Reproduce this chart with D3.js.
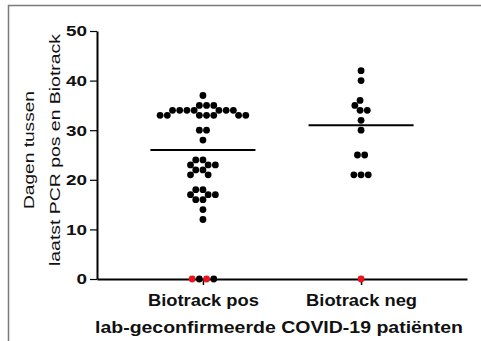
<!DOCTYPE html>
<html>
<head>
<meta charset="utf-8">
<script src="https://cdn.jsdelivr.net/npm/d3@7"></script>
<style>
  body { margin: 0; background: #fff; }
  svg { display: block; font-family: 'Liberation Sans', Arial, sans-serif; }
</style>
</head>
<body>
<div id="chart"></div>
<script>
const categories = ['Biotrack pos', 'Biotrack neg']
// dagen tussen laatste PCR pos en Biotrack, per patiënt (zwart)
const posDays = [37, 35, 35, 35, 34, 34, 34, 34, 34, 34, 34, 33, 33, 33, 33, 33, 33, 33,
  30, 30, 28, 24, 24, 23, 23, 23, 22, 22, 21, 21, 18, 18, 17, 17, 17, 16, 16, 14, 12, 0, 0]
const negDays = [42, 40, 36, 35, 34, 34, 32, 30, 25, 25, 21, 21, 21]
// rode punten
const posRedDays = [0, 0]
const negRedDays = [0]
// horizontale lijn per groep
const centerLines = [26, 31]
const yTicks = [0, 10, 20, 30, 40, 50]
const yTitle = ['Dagen tussen', 'laatst PCR pos en Biotrack']
const xTitle = 'lab-geconfirmeerde COVID-19 patiënten'

const width = 481
const height = 341
const dotR = 3.4
const dotD = 7.2
const red = '#e8141c'

const svg = d3.select('#chart').append('svg')
  .attr('width', width)
  .attr('height', height)

svg.append('rect').attr('width', width).attr('height', height).attr('fill', '#fff')

// grijze rand links en boven
svg.append('path')
  .attr('d', `M8.5,${height}V5.5H${width}`)
  .attr('fill', 'none')
  .attr('stroke', '#7a7a7a')
  .attr('stroke-width', 1.5)

const yScale = d3.scaleLinear().domain([0, 50]).range([279, 31])
const xScale = d3.scalePoint().domain(categories).range([97, 467]).padding(0.67)

const yAxisMinor = d3.axisLeft(yScale)
  .tickValues(d3.range(0, 51))
  .tickSize(3.5)
  .tickSizeOuter(0)
  .tickFormat('')

const yAxis = d3.axisLeft(yScale)
  .tickValues(yTicks)
  .tickSize(7)
  .tickSizeOuter(0)
  .tickPadding(3)

const xAxis = d3.axisBottom(xScale)
  .tickSize(6)
  .tickSizeOuter(0)

function customYAxis (g) {
  g.call(yAxisMinor)
  g.call(yAxis)
  g.select('.domain').attr('stroke', '#000').attr('stroke-width', 2)
  g.selectAll('.tick line').attr('stroke', '#000').attr('stroke-width', 1.2)
  g.selectAll('.tick text')
    .attr('fill', '#111')
    .style('font-size', '15px')
    .style('font-weight', 'bold')
    .attr('textLength', d => String(d).length * 10.5)
    .attr('lengthAdjust', 'spacingAndGlyphs')
}

function customXAxis (g) {
  g.call(xAxis)
  g.select('.domain').attr('stroke', '#000').attr('stroke-width', 2)
  g.selectAll('.tick line').attr('stroke', '#000').attr('stroke-width', 1.5)
  g.selectAll('.tick text')
    .attr('fill', '#111')
    .attr('y', 27)
    .attr('dy', 0)
    .style('font-size', '16px')
    .style('font-weight', 'bold')
    .attr('textLength', 111)
    .attr('lengthAdjust', 'spacingAndGlyphs')
}

svg.append('g').attr('transform', 'translate(97,0)').call(customYAxis)
svg.append('g').attr('transform', 'translate(0,279)').call(customXAxis)

// as-titels
svg.selectAll('.ytitle')
  .data(yTitle)
  .enter().append('text')
  .attr('class', 'ytitle')
  .attr('transform', (d, i) => `translate(${33.5 + i * 26},${150}) rotate(-90)`)
  .attr('text-anchor', 'middle')
  .attr('fill', '#111')
  .style('font-size', '15.5px')
  .attr('textLength', (d, i) => i === 0 ? 118 : 232)
  .attr('lengthAdjust', 'spacingAndGlyphs')
  .text(d => d)

svg.append('text')
  .attr('x', 279)
  .attr('y', 333)
  .attr('text-anchor', 'middle')
  .attr('fill', '#111')
  .style('font-size', '16.5px')
  .style('font-weight', 'bold')
  .attr('textLength', 368)
  .attr('lengthAdjust', 'spacingAndGlyphs')
  .text(xTitle)

// beeswarm: elk punt zo dicht mogelijk bij het midden zonder overlap
function swarm (points) {
  const d2 = dotD * dotD
  points.forEach((p, i) => {
    const near = points.slice(0, i).filter(q => Math.abs(q.y - p.y) < dotD)
    const cands = [0]
    near.forEach(q => {
      const dx = Math.sqrt(d2 - (q.y - p.y) ** 2)
      cands.push(q.x - dx, q.x + dx)
    })
    cands.sort((a, b) => Math.abs(a) - Math.abs(b) || a - b)
    p.x = cands.find(c => near.every(q => (q.x - c) ** 2 + (q.y - p.y) ** 2 >= d2 - 0.01))
  })
  // clusters centreren
  const parent = points.map((p, i) => i)
  const find = i => parent[i] === i ? i : (parent[i] = find(parent[i]))
  points.forEach((p, i) => points.forEach((q, j) => {
    if (j > i && (p.x - q.x) ** 2 + (p.y - q.y) ** 2 < (dotD + 0.6) ** 2) parent[find(i)] = find(j)
  }))
  d3.groups(points.map((p, i) => i), i => find(i)).forEach(([, idx]) => {
    const ext = d3.extent(idx, i => points[i].x)
    const shift = (ext[0] + ext[1]) / 2
    idx.forEach(i => { points[i].x -= shift })
  })
  // gelijke waarden links naar rechts in volgorde
  d3.groups(points, p => p.v).forEach(([, row]) => {
    const xs = row.map(p => p.x).sort((a, b) => a - b)
    row.forEach((p, k) => { p.x = xs[k] })
  })
  return points
}

function buildGroup (black, reds, cat) {
  const rank = arr => arr.map((v, i) => ({ v, red: false, k: arr.slice(0, i).filter(w => w === v).length }))
  const pts = rank(black).concat(rank(reds).map(p => ({ ...p, red: true })))
  pts.sort((a, b) => b.v - a.v || a.k - b.k || (b.red - a.red))
  pts.forEach(p => { p.y = yScale(p.v); p.cat = cat })
  return swarm(pts)
}

const groups = [
  buildGroup(posDays, posRedDays, categories[0]),
  buildGroup(negDays, negRedDays, categories[1])
]

svg.selectAll('.center')
  .data(centerLines)
  .enter().append('line')
  .attr('class', 'center')
  .attr('x1', (d, i) => xScale(categories[i]) - 52.5)
  .attr('x2', (d, i) => xScale(categories[i]) + 52.5)
  .attr('y1', d => yScale(d))
  .attr('y2', d => yScale(d))
  .attr('stroke', '#000')
  .attr('stroke-width', 2)

svg.selectAll('.dot')
  .data(groups.flat())
  .enter().append('circle')
  .attr('class', 'dot')
  .attr('cx', d => xScale(d.cat) + d.x)
  .attr('cy', d => d.y)
  .attr('r', dotR)
  .attr('fill', d => d.red ? red : '#000')
</script>
</body>
</html>
